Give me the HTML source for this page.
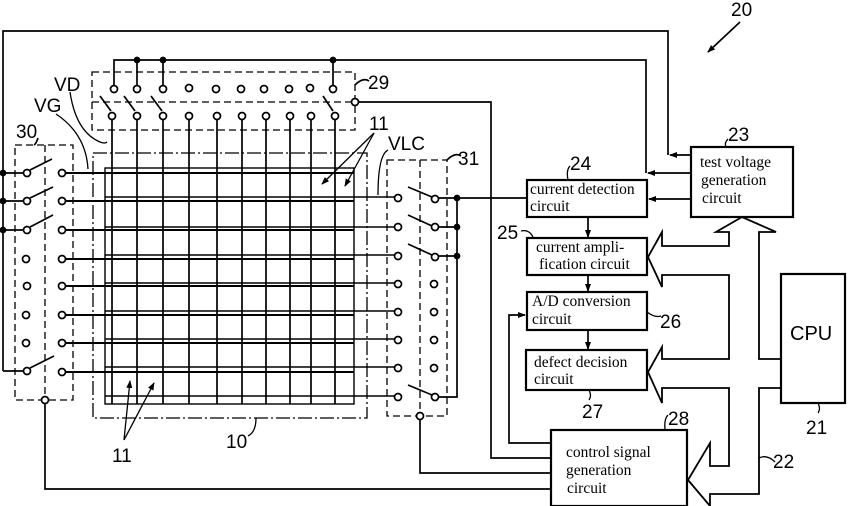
<!DOCTYPE html>
<html><head><meta charset="utf-8"><style>
html,body{margin:0;padding:0;background:#fff;}
svg{display:block;}
.n{font-family:"Liberation Sans",sans-serif;font-size:19px;fill:#000;}
.t{font-family:"Liberation Serif",serif;font-size:15.5px;fill:#000;}
</style></head><body>
<svg width="850" height="506" viewBox="0 0 850 506" xmlns="http://www.w3.org/2000/svg">
<defs><marker id="a" markerWidth="8" markerHeight="8" refX="7" refY="4" orient="auto" markerUnits="userSpaceOnUse"><path d="M0,1 L8,4 L0,7z" fill="#000"/></marker></defs>
<g stroke="#000" fill="none" stroke-width="1.7">
<path d="M3,371 V31 H668 V155"/>
<line x1="691" y1="155" x2="670" y2="155" marker-end="url(#a)"/>
<path d="M114,89 V60 H646 V173"/>
<line x1="691" y1="173" x2="648" y2="173" marker-end="url(#a)"/>
<circle cx="137" cy="60" r="2.5" fill="#000"/><circle cx="163" cy="60" r="2.5" fill="#000"/><circle cx="333" cy="60" r="2.5" fill="#000"/>
<line x1="137" y1="60" x2="137" y2="86"/><line x1="163" y1="60" x2="163" y2="86"/><line x1="333" y1="60" x2="333" y2="86"/>
<path d="M359,102 H491 V458 H551"/>
<rect x="92" y="72" width="263" height="58" stroke-dasharray="7,4" stroke-width="1.3"/>
<line x1="92" y1="102" x2="351" y2="102" stroke-dasharray="7,4" stroke-width="1.3"/>
<circle cx="355" cy="102" r="3.5" fill="#fff"/>
<g fill="#fff">
<circle cx="114" cy="89" r="3.5"/><circle cx="137" cy="89" r="3.5"/><circle cx="163" cy="89" r="3.5"/><circle cx="189" cy="88" r="3.5"/><circle cx="216" cy="89" r="3.5"/><circle cx="241" cy="89" r="3.5"/><circle cx="264" cy="89" r="3.5"/><circle cx="289" cy="89" r="3.5"/><circle cx="310" cy="88" r="3.5"/><circle cx="333" cy="89" r="3.5"/>
</g>
<line x1="100" y1="96" x2="111" y2="111"/><line x1="124" y1="96" x2="135" y2="111"/><line x1="151" y1="96" x2="162" y2="111"/><line x1="323" y1="96" x2="333" y2="111"/>
<g stroke-width="1.7">
<line x1="112" y1="120" x2="112" y2="404"/><line x1="137" y1="120" x2="137" y2="404"/><line x1="163" y1="120" x2="163" y2="404"/><line x1="189" y1="120" x2="189" y2="404"/><line x1="217" y1="120" x2="217" y2="404"/><line x1="242" y1="120" x2="242" y2="404"/><line x1="266" y1="120" x2="266" y2="404"/><line x1="290" y1="120" x2="290" y2="404"/><line x1="311" y1="120" x2="311" y2="404"/><line x1="335" y1="120" x2="335" y2="404"/>
</g>
<g fill="#fff">
<circle cx="112" cy="116" r="3.5"/><circle cx="137" cy="116" r="3.5"/><circle cx="163" cy="116" r="3.5"/><circle cx="189" cy="116" r="3.5"/><circle cx="217" cy="116" r="3.5"/><circle cx="242" cy="116" r="3.5"/><circle cx="266" cy="116" r="3.5"/><circle cx="290" cy="116" r="3.5"/><circle cx="311" cy="116" r="3.5"/><circle cx="335" cy="116" r="3.5"/>
</g>
<rect x="93" y="153" width="274" height="265" stroke-dasharray="14,3,2,3" stroke-width="1.3"/>
<rect x="105" y="168" width="249" height="236" stroke-width="1.4"/>
<g stroke-width="1.9">
<line x1="66" y1="173" x2="354" y2="173"/><line x1="66" y1="201" x2="354" y2="201"/><line x1="66" y1="230" x2="354" y2="230"/><line x1="66" y1="259" x2="354" y2="259"/><line x1="66" y1="286" x2="354" y2="286"/><line x1="66" y1="315" x2="354" y2="315"/><line x1="66" y1="343" x2="354" y2="343"/><line x1="66" y1="372" x2="354" y2="372"/>
</g>
<g stroke-width="1.4">
<line x1="105" y1="197" x2="394" y2="197"/><line x1="105" y1="227" x2="394" y2="227"/><line x1="105" y1="255" x2="394" y2="255"/><line x1="105" y1="283" x2="394" y2="283"/><line x1="105" y1="311" x2="394" y2="311"/><line x1="105" y1="339" x2="394" y2="339"/><line x1="105" y1="367" x2="394" y2="367"/><line x1="105" y1="396" x2="394" y2="396"/>
</g>
<rect x="15" y="145" width="58" height="255" stroke-dasharray="7,4" stroke-width="1.3"/>
<line x1="45" y1="145" x2="45" y2="396" stroke-dasharray="7,4" stroke-width="1.3"/>
<line x1="3" y1="173" x2="24" y2="173"/><line x1="3" y1="201" x2="24" y2="201"/><line x1="3" y1="230" x2="24" y2="230"/><line x1="3" y1="371" x2="24" y2="371"/>
<circle cx="3" cy="173" r="2.5" fill="#000"/><circle cx="3" cy="201" r="2.5" fill="#000"/><circle cx="3" cy="230" r="2.5" fill="#000"/>
<line x1="30" y1="170" x2="52" y2="159"/><line x1="30" y1="198" x2="53" y2="187"/><line x1="30" y1="227" x2="53" y2="215"/><line x1="30" y1="368" x2="54" y2="356"/>
<g fill="#fff">
<circle cx="27" cy="173" r="3.5"/><circle cx="27" cy="201" r="3.5"/><circle cx="27" cy="230" r="3.5"/><circle cx="26" cy="259" r="3.5"/><circle cx="27" cy="286" r="3.5"/><circle cx="26" cy="315" r="3.5"/><circle cx="26" cy="343" r="3.5"/><circle cx="27" cy="371" r="3.5"/>
<circle cx="62" cy="173" r="3.5"/><circle cx="62" cy="201" r="3.5"/><circle cx="62" cy="230" r="3.5"/><circle cx="62" cy="259" r="3.5"/><circle cx="62" cy="286" r="3.5"/><circle cx="62" cy="315" r="3.5"/><circle cx="62" cy="343" r="3.5"/><circle cx="62" cy="372" r="3.5"/>
</g>
<path d="M45,404 V489 H551"/>
<circle cx="45" cy="400" r="3.5" fill="#fff"/>
<rect x="387" y="160" width="60" height="256" stroke-dasharray="7,4" stroke-width="1.3"/>
<line x1="420" y1="160" x2="420" y2="412" stroke-dasharray="7,4" stroke-width="1.3"/>
<path d="M438,198 H527"/>
<path d="M457,198 V397 H439"/>
<line x1="438" y1="227" x2="457" y2="227"/><line x1="438" y1="256" x2="457" y2="256"/>
<circle cx="457" cy="198" r="2.5" fill="#000"/><circle cx="457" cy="227" r="2.5" fill="#000"/><circle cx="457" cy="256" r="2.5" fill="#000"/>
<line x1="408" y1="187" x2="432" y2="197"/><line x1="408" y1="215" x2="432" y2="226"/><line x1="408" y1="244" x2="432" y2="255"/><line x1="408" y1="385" x2="432" y2="395"/>
<g fill="#fff">
<circle cx="398" cy="198" r="3.5"/><circle cx="398" cy="227" r="3.5"/><circle cx="398" cy="256" r="3.5"/><circle cx="398" cy="284" r="3.5"/><circle cx="398" cy="312" r="3.5"/><circle cx="398" cy="340" r="3.5"/><circle cx="398" cy="368" r="3.5"/><circle cx="398" cy="397" r="3.5"/>
<circle cx="435" cy="199" r="3.5"/><circle cx="435" cy="227" r="3.5"/><circle cx="435" cy="257" r="3.5"/><circle cx="434" cy="284" r="3.5"/><circle cx="434" cy="312" r="3.5"/><circle cx="434" cy="340" r="3.5"/><circle cx="434" cy="368" r="3.5"/><circle cx="435" cy="397" r="3.5"/>
</g>
<path d="M420,420 V473 H551"/>
<circle cx="420" cy="416" r="3.5" fill="#fff"/>
<g stroke-width="2.2">
<rect x="527" y="180" width="120" height="37"/>
<rect x="691" y="147" width="102" height="70"/>
<rect x="527" y="238" width="120" height="37"/>
<rect x="527" y="292" width="120" height="38"/>
<rect x="526" y="350" width="121" height="40"/>
<rect x="551" y="430" width="136" height="76"/>
<rect x="781" y="274" width="64" height="129"/>
</g>
<line x1="691" y1="199" x2="649" y2="199" marker-end="url(#a)"/>
<line x1="588" y1="217" x2="588" y2="237" marker-end="url(#a)"/>
<line x1="588" y1="275" x2="588" y2="291" marker-end="url(#a)"/>
<line x1="588" y1="330" x2="588" y2="349" marker-end="url(#a)"/>
<path d="M551,443 H509 V315 H525" marker-end="url(#a)"/>
<path d="M781,359 H759 V232 H776 L742,217 L716,232 H729 V246 H662 V232 L648,257 L662,287 V275 H729 V359 H662 V347 L648,372 L662,403 V388 H729 V466 H710 V443 L688,480 L710,506 V494 H759 V388 H781" stroke-width="1.8"/>
<path d="M740,22 L708,52" marker-end="url(#a)"/>
<path d="M355,85 q8,-8 14,-4"/>
<path d="M447,160 q8,-8 14,-4"/>
<path d="M38,138 q-2,6 -4,7"/>
<path d="M70,92 q6,40 30,50 q5,2 7,0" stroke-width="1.3"/>
<path d="M56,114 q30,20 32,55" stroke-width="1.3"/>
<path d="M388,150 q-10,5 -10,45" stroke-width="1.3"/>
<path d="M374,133 L322,184" marker-end="url(#a)" stroke-width="1.3"/>
<path d="M374,133 L345,186" marker-end="url(#a)" stroke-width="1.3"/>
<path d="M124,440 L130,381" marker-end="url(#a)" stroke-width="1.3"/>
<path d="M124,440 L154,383" marker-end="url(#a)" stroke-width="1.3"/>
<path d="M248,436 q8,-4 8,-18" stroke-width="1.3"/>
<path d="M570,166 q-4,4 -2,14" stroke-width="1.3"/>
<path d="M728,139 q-4,4 -2,8" stroke-width="1.3"/>
<path d="M521,231 q8,-2 12,6" stroke-width="1.3"/>
<path d="M647,312 q8,6 14,4" stroke-width="1.3"/>
<path d="M589,390 q3,6 0,10" stroke-width="1.3"/>
<path d="M668,415 q-4,4 -3,14" stroke-width="1.3"/>
<path d="M818,403 q3,6 0,10" stroke-width="1.3"/>
<path d="M759,458 q8,-4 16,4" stroke-width="1.3"/>
</g>
<text class="n" x="731" y="16">20</text>
<text class="n" x="728" y="141">23</text>
<text class="n" x="570" y="170">24</text>
<text class="n" x="497" y="239">25</text>
<text class="n" x="660" y="328">26</text>
<text class="n" x="582" y="418">27</text>
<text class="n" x="668" y="425">28</text>
<text class="n" x="806" y="434">21</text>
<text class="n" x="773" y="468">22</text>
<text class="n" x="368" y="89">29</text>
<text class="n" x="16" y="138">30</text>
<text class="n" x="458" y="165">31</text>
<text class="n" x="54" y="91">VD</text>
<text class="n" x="34" y="112">VG</text>
<text class="n" x="388" y="150">VLC</text>
<text class="n" x="369" y="130">11</text>
<text class="n" x="112" y="462">11</text>
<text class="n" x="226" y="448">10</text>
<text class="n" x="790" y="340" style="font-size:20px">CPU</text>
<g class="t">
<text x="530" y="194">current detection</text><text x="530" y="211">circuit</text>
<text x="700" y="167">test voltage</text><text x="701" y="185">generation</text><text x="702" y="203">circuit</text>
<text x="536" y="252">current ampli-</text><text x="539" y="269">fication circuit</text>
<text x="532" y="306">A/D conversion</text><text x="532" y="324">circuit</text>
<text x="534" y="367">defect decision</text><text x="534" y="384">circuit</text>
<text x="566" y="457">control signal</text><text x="566" y="475">generation</text><text x="567" y="493">circuit</text>
</g>
</svg>
</body></html>
